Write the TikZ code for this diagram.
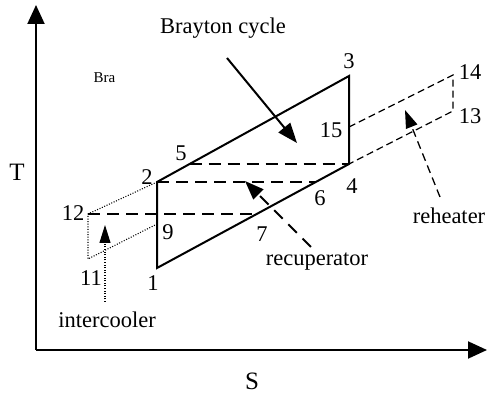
\documentclass[tikz,border=0pt]{standalone}
\usepackage{fontspec}
\setmainfont{Liberation Serif}
\usetikzlibrary{arrows.meta}
\begin{document}
\begin{tikzpicture}[x=1pt,y=-1pt,
  lbl/.style={font=\fontsize{22.5}{24}\selectfont, inner sep=0pt},
  axlbl/.style={font=\fontsize{25}{27}\selectfont, inner sep=0pt},
  small/.style={font=\fontsize{15}{17}\selectfont, inner sep=0pt},
  axis/.style={line width=2pt, -{Triangle[length=19pt,width=17pt]}},
  cyc/.style={line width=2pt, line join=miter},
  recup/.style={line width=2pt, dash pattern=on 12pt off 7pt},
  reheat/.style={line width=1.2pt, dash pattern=on 7pt off 4pt},
  inter/.style={line width=1.1pt, dash pattern=on 1pt off 1.6pt},
  bigarrow/.style={line width=2pt, -{Triangle[length=20pt,width=15pt]}},
  recarrow/.style={line width=2pt, dash pattern=on 12pt off 8pt, -{Triangle[length=19pt,width=14pt]}},
  reharrow/.style={line width=1.3pt, dash pattern=on 8pt off 5pt, -{Triangle[length=18pt,width=12pt]}},
  intarrow/.style={line width=1.1pt, dash pattern=on 1pt off 1.6pt, -{Triangle[length=18pt,width=11pt]}}]
\useasboundingbox (0,0) rectangle (488,395);
% axes
\coordinate (o) at (36,350);
\coordinate (ty) at (36,5);
\coordinate (sx) at (487,350);
\draw[axis] (o) -- (ty);
\draw[axis] (o) -- (sx);
\node[axlbl] (T) at (17,172) {T};
\node[axlbl] (S) at (252,381) {S};
% state points
\coordinate (p1) at (157,268);
\coordinate (p2) at (157,182);
\coordinate (p3) at (349,76);
\coordinate (p4) at (349,164);
\coordinate (p5) at (189.6,164);
\coordinate (p6) at (315.8,182);
\coordinate (p7) at (256.7,214);
\coordinate (p9) at (157,224);
\coordinate (p12) at (88,214);
\coordinate (p11) at (88,259);
\coordinate (p15) at (349,127);
\coordinate (p14) at (453,75);
\coordinate (p13) at (453,111);
% main cycle
\draw[cyc] (p1) -- (p2) -- (p3) -- (p4) -- cycle;
% recuperator lines
\draw[recup] (p5) -- (p4);
\draw[recup] (p2) -- (p6);
\draw[recup] (p12) -- (p7);
% intercooler
\draw[inter] (p2) -- (p12) -- (p11) -- (p9);
% reheater
\draw[reheat] (p15) -- (p14) -- (p13) -- (p4);
% labels
\node[small] (bra) at (104.5,78) {Bra};
\node[lbl] (bc) at (223,28) {Brayton cycle};
\node[lbl] (l1) at (153,283) {1};
\node[lbl] (l2) at (147,177) {2};
\node[lbl] (l3) at (349,61) {3};
\node[lbl] (l4) at (352,186) {4};
\node[lbl] (l5) at (181,153) {5};
\node[lbl] (l6) at (320,198) {6};
\node[lbl] (l7) at (262,234) {7};
\node[lbl] (l9) at (168,232) {9};
\node[lbl] (l11) at (91,278) {11};
\node[lbl] (l12) at (73,213) {12};
\node[lbl] (l13) at (470,116) {13};
\node[lbl] (l14) at (470,72) {14};
\node[lbl] (l15) at (331,130) {15};
\node[lbl] (rec) at (317,262) {recuperator};
\node[lbl] (reh) at (449,216) {reheater};
\node[lbl] (ic) at (107,320) {intercooler};
% pointer arrows
\coordinate (bcs) at (227,58);
\coordinate (bct) at (297,143);
\draw[bigarrow] (bcs) -- (bct);
\coordinate (recs) at (311,247);
\coordinate (rect) at (245,181);
\draw[recarrow] (recs) -- (rect);
\coordinate (rehs) at (440,197);
\coordinate (reht) at (405,110);
\draw[reharrow] (rehs) -- (reht);
\coordinate (ics) at (105,302);
\coordinate (ict) at (105,225);
\draw[intarrow] (ics) -- (ict);
\end{tikzpicture}
\end{document}
